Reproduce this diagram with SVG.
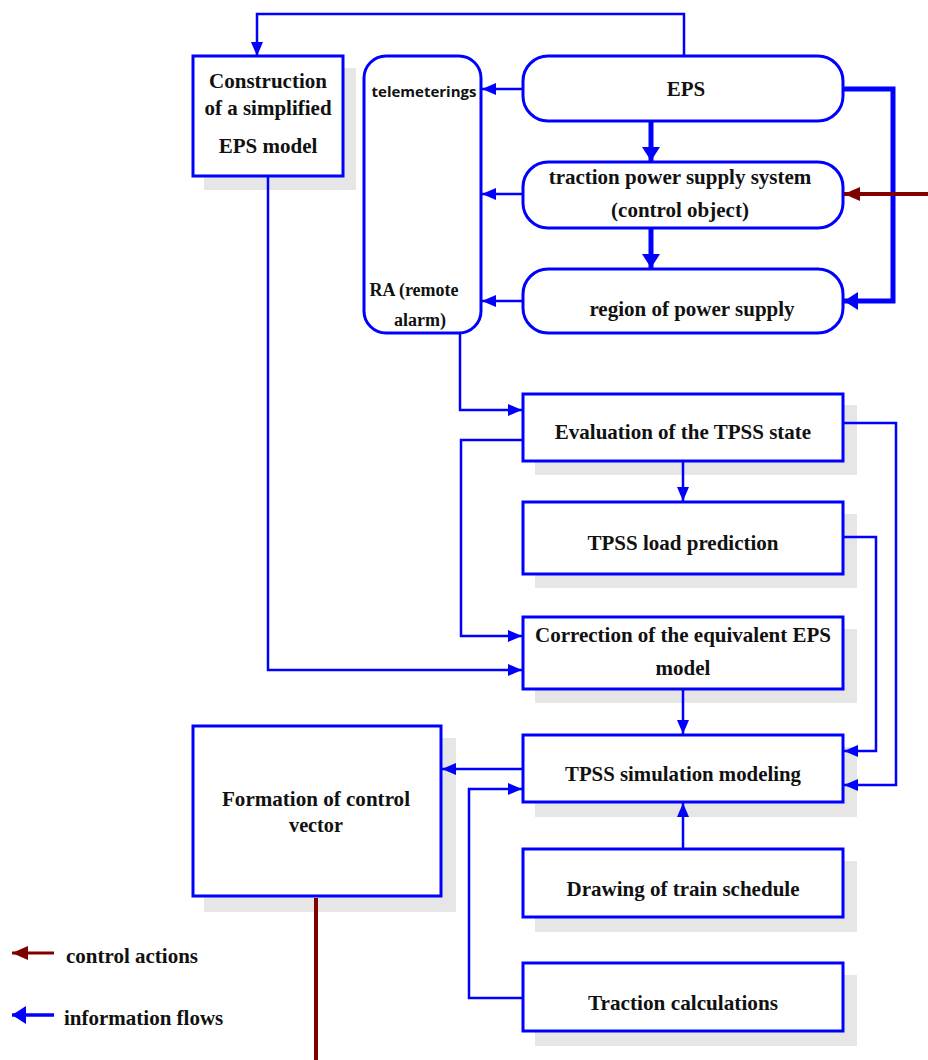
<svg xmlns="http://www.w3.org/2000/svg" width="928" height="1060" viewBox="0 0 928 1060">
  <style>
    .box { fill: #ffffff; stroke: #0000ff; stroke-width: 3; }
    .shadow { fill: #e6e6e6; }
    .t { font-family: "Liberation Serif", "Times New Roman", serif; font-weight: bold; font-size: 21px; fill: #111111; text-anchor: middle; }
    .s { font-family: "Open Sans", "Liberation Sans", sans-serif; font-weight: bold; font-size: 15px; fill: #111111; text-anchor: middle; }
    .link { fill: none; stroke: #0000ff; stroke-width: 2.5; }
    .thick { fill: none; stroke: #0000ff; stroke-width: 5; }
    .ctrl { fill: none; stroke: #800000; stroke-width: 4; }
  </style>
  <defs>
    <marker id="ah" viewBox="0 0 14 12" refX="14" refY="6" markerWidth="14" markerHeight="12" markerUnits="userSpaceOnUse" orient="auto">
      <path d="M0,0 L14,6 L0,12 Z" fill="#0000ff"/>
    </marker>
    <marker id="ahBig" viewBox="0 0 14 18" refX="14" refY="9" markerWidth="16" markerHeight="18" markerUnits="userSpaceOnUse" orient="auto">
      <path d="M0,0 L14,9 L0,18 Z" fill="#0000ff"/>
    </marker>
    <marker id="ahRed" viewBox="0 0 16 14" refX="16" refY="7" markerWidth="18" markerHeight="14" markerUnits="userSpaceOnUse" orient="auto">
      <path d="M0,0 L16,7 L0,14 Z" fill="#800000"/>
    </marker>
  </defs>

  <g id="construction">
    <rect class="shadow" x="204" y="68" width="152" height="122"/>
    <rect class="box" x="193" y="56" width="150" height="120"/>
    <text class="t" x="268" y="88">Construction</text>
    <text class="t" x="268" y="115">of a simplified</text>
    <text class="t" x="268" y="153">EPS model</text>
  </g>

  <g id="telemetry">
    <rect class="box" x="364" y="56" width="117" height="277" rx="22" ry="22"/>
    <text class="s" x="424" y="97">telemeterings</text>
    <text class="t" x="414" y="296" style="font-size:18px">RA (remote</text>
    <text class="t" x="420" y="326" style="font-size:18px">alarm)</text>
  </g>

  <g id="eps">
    <rect class="box" x="523" y="56" width="320" height="65" rx="25" ry="25"/>
    <text class="t" x="686" y="96">EPS</text>
  </g>

  <g id="tpss-object">
    <rect class="box" x="523" y="162" width="320" height="66" rx="25" ry="25"/>
    <text class="t" x="680" y="184">traction power supply system</text>
    <text class="t" x="680" y="217">(control object)</text>
  </g>

  <g id="region">
    <rect class="box" x="523" y="269" width="320" height="64" rx="25" ry="25"/>
    <text class="t" x="692" y="316">region of power supply</text>
  </g>

  <g id="evaluation">
    <rect class="shadow" x="535" y="405" width="322" height="70"/>
    <rect class="box" x="523" y="394" width="320" height="67"/>
    <text class="t" x="683" y="439">Evaluation of the TPSS state</text>
  </g>

  <g id="load-prediction">
    <rect class="shadow" x="535" y="514" width="322" height="74"/>
    <rect class="box" x="523" y="502" width="320" height="72"/>
    <text class="t" x="683" y="550">TPSS load prediction</text>
  </g>

  <g id="correction">
    <rect class="shadow" x="535" y="629" width="322" height="74"/>
    <rect class="box" x="523" y="617" width="320" height="72"/>
    <text class="t" x="683" y="642">Correction of the equivalent EPS</text>
    <text class="t" x="683" y="675">model</text>
  </g>

  <g id="simulation">
    <rect class="shadow" x="535" y="747" width="322" height="70"/>
    <rect class="box" x="523" y="735" width="320" height="67"/>
    <text class="t" x="683" y="781" textLength="236" lengthAdjust="spacingAndGlyphs">TPSS simulation modeling</text>
  </g>

  <g id="formation">
    <rect class="shadow" x="204" y="738" width="252" height="174"/>
    <rect class="box" x="193" y="726" width="248" height="170"/>
    <text class="t" x="316" y="806" textLength="188" lengthAdjust="spacingAndGlyphs">Formation of control</text>
    <text class="t" x="316" y="832" textLength="54" lengthAdjust="spacingAndGlyphs">vector</text>
  </g>

  <g id="schedule">
    <rect class="shadow" x="535" y="861" width="322" height="71"/>
    <rect class="box" x="523" y="849" width="320" height="68"/>
    <text class="t" x="683" y="896" textLength="233" lengthAdjust="spacingAndGlyphs">Drawing of train schedule</text>
  </g>

  <g id="traction-calc">
    <rect class="shadow" x="535" y="975" width="322" height="71"/>
    <rect class="box" x="523" y="963" width="320" height="68"/>
    <text class="t" x="683" y="1010" textLength="190" lengthAdjust="spacingAndGlyphs">Traction calculations</text>
  </g>

  <g id="legend">
    <path class="ctrl" d="M54,953 H12" style="stroke-width:3" marker-end="url(#ahRed)"/>
    <text class="t" x="66" y="963" style="text-anchor:start">control actions</text>
    <path class="link" d="M54,1015 H12" style="stroke-width:3.5" marker-end="url(#ahBig)"/>
    <text class="t" x="64" y="1025" style="text-anchor:start">information flows</text>
  </g>

  <!-- connectors, drawn over the boxes and their shadows -->
  <g id="connectors">
    <path class="link" d="M684,56 V14 H257 V56" marker-end="url(#ah)"/>
    <path class="link" d="M523,89 H482" marker-end="url(#ah)"/>
    <path class="link" d="M523,194 H482" marker-end="url(#ah)"/>
    <path class="link" d="M523,301 H482" marker-end="url(#ah)"/>
    <path class="thick" d="M651,122 V161" marker-end="url(#ahBig)"/>
    <path class="thick" d="M651,229 V268" marker-end="url(#ahBig)"/>
    <path class="thick" d="M844,89 H893 V301 H844" marker-end="url(#ahBig)"/>
    <path class="ctrl" d="M928,194 H844" marker-end="url(#ahRed)"/>
    <path class="link" d="M460,334 V410 H522" marker-end="url(#ah)"/>
    <path class="link" d="M683,462 V501" marker-end="url(#ah)"/>
    <path class="link" d="M522,440 H461 V636 H522" marker-end="url(#ah)"/>
    <path class="link" d="M268,177 V670 H522" marker-end="url(#ah)"/>
    <path class="link" d="M683,690 V734" marker-end="url(#ah)"/>
    <path class="link" d="M844,423 H896 V785 H844" marker-end="url(#ah)"/>
    <path class="link" d="M844,537 H876 V751 H844" marker-end="url(#ah)"/>
    <path class="link" d="M522,769 H442" marker-end="url(#ah)"/>
    <path class="link" d="M522,998 H469 V789 H522" marker-end="url(#ah)"/>
    <path class="link" d="M683,848 V803" marker-end="url(#ah)"/>
    <path class="ctrl" d="M316,898 V1060"/>
  </g>
</svg>
